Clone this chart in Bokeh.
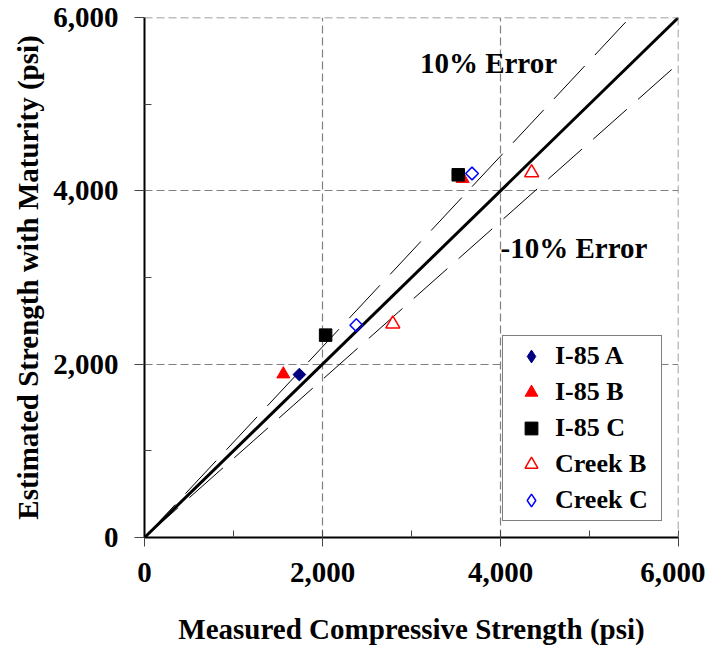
import math
from bokeh.plotting import figure
from bokeh.models import Range1d, FixedTicker, Label, Legend, LegendItem, NumeralTickFormatter, Span
from bokeh.embed import file_html
from bokeh.resources import INLINE

# ---- data ----
i85a_x = [1740]
i85a_y = [1880]
i85b_x = [1560, 3575]
i85b_y = [1885, 4140]
i85c_x = [2035, 3525]
i85c_y = [2335, 4185]
creekb_x = [2790, 4350]
creekb_y = [2465, 4210]
creekc_x = [2380, 3680]
creekc_y = [2450, 4200]

line_x = [0, 6000]
equal_y = [0, 6000]
upper_y = [0, 6600]   # +10% error
lower_y = [0, 5470]   # -10% error

ticks = [0, 2000, 4000, 6000]
minor = [1000, 3000, 5000]

FONT = "Liberation Serif"
NAN = float("nan")
GRID = "#808080"

p = figure(width=705, height=647, output_backend="svg", toolbar_location=None,
           x_range=Range1d(0, 6000), y_range=Range1d(0, 6000),
           min_border_left=144, min_border_right=27, min_border_top=17, min_border_bottom=109)
p.outline_line_color = None
p.background_fill_color = "white"
p.border_fill_color = "white"

# grids
for g in (p.xgrid, p.ygrid):
    g.ticker = FixedTicker(ticks=[2000, 4000])
    g.grid_line_color = GRID
    g.grid_line_dash = "8 4"
    g.grid_line_width = 1.2

# grid lines at the outer edge (6,000)
p.add_layout(Span(location=ticks[-1], dimension="height", line_color=GRID, line_dash="8 4", line_width=1.5))
p.add_layout(Span(location=ticks[-1], dimension="width", line_color=GRID, line_dash="8 4", line_width=1.5))

# axes
for ax in (p.xaxis, p.yaxis):
    ax.ticker = FixedTicker(ticks=ticks, minor_ticks=minor)
    ax.formatter = NumeralTickFormatter(format="0,0")
    ax.axis_line_color = "black"
    ax.axis_line_width = 2
    ax.major_tick_line_color = "#444444"
    ax.minor_tick_line_color = "#444444"
    ax.major_label_text_font = FONT
    ax.major_label_text_font_style = "bold"
    ax.major_label_text_font_size = "29px"
    ax.major_label_text_color = "black"
    ax.axis_label_text_font = FONT
    ax.axis_label_text_font_style = "bold"
    ax.axis_label_text_font_size = "29px"
    ax.axis_label_text_color = "black"
    ax.minor_tick_in = 7
    ax.minor_tick_out = 0

p.xaxis.major_tick_in = 7
p.xaxis.major_tick_out = 9
p.xaxis.major_label_standoff = 16
p.xaxis.axis_label = "Measured Compressive Strength (psi)"
p.xaxis.axis_label_standoff = 28

p.yaxis.major_tick_in = 0
p.yaxis.major_tick_out = 10
p.yaxis.major_label_standoff = 16
p.yaxis.axis_label = "Estimated Strength with Maturity (psi)"
p.yaxis.axis_label_standoff = 6

# lines
p.line(line_x, upper_y, line_color="black", line_width=1, line_dash="45 15")
p.line(line_x, lower_y, line_color="black", line_width=1, line_dash="45 15")
p.line(line_x, equal_y, line_color="black", line_width=3)

rot = math.pi / 4
# points
r1 = p.scatter(i85a_x, i85a_y, marker="square", angle=rot, size=9, fill_color="#000080", line_color="#000080")
r2 = p.scatter(i85b_x, i85b_y, marker="triangle", size=13, fill_color="red", line_color="red")
r3 = p.scatter(i85c_x, i85c_y, marker="square", size=12.5, fill_color="black", line_color="black")
r4 = p.scatter(creekb_x, creekb_y, marker="triangle", size=14, fill_color=None, line_color="red", line_width=1.5)
r5 = p.scatter(creekc_x, creekc_y, marker="square", angle=rot, size=9, fill_color=None, line_color="blue", line_width=1.5)

# legend swatches for the diamond series (legend glyphs ignore marker angle)
l1 = p.scatter([NAN], [NAN], marker="diamond", size=16, fill_color="#000080", line_color="#000080")
l5 = p.scatter([NAN], [NAN], marker="diamond", size=16, fill_color=None, line_color="blue", line_width=1.5)

legend = Legend(items=[
    LegendItem(label="I-85 A", renderers=[l1]),
    LegendItem(label="I-85 B", renderers=[r2]),
    LegendItem(label="I-85 C", renderers=[r3]),
    LegendItem(label="Creek B", renderers=[r4]),
    LegendItem(label="Creek C", renderers=[l5]),
], location=(358, 16))
legend.label_text_font = FONT
legend.label_text_font_style = "bold"
legend.label_text_font_size = "26px"
legend.label_text_color = "black"
legend.border_line_color = "black"
legend.border_line_width = 1
legend.background_fill_color = "white"
legend.background_fill_alpha = 1
legend.padding = 4
legend.spacing = 4
legend.glyph_height = 32
legend.label_height = 32
legend.glyph_width = 48
legend.label_standoff = 0
legend.label_width = 102
legend.margin = 0
p.add_layout(legend)

p.add_layout(Label(x=3865, y=5480, text="10% Error", text_font=FONT, text_font_style="bold",
                   text_font_size="29px", text_align="center", text_baseline="middle", text_color="black"))
p.add_layout(Label(x=4826, y=3345, text="-10% Error", text_font=FONT, text_font_style="bold",
                   text_font_size="29px", text_align="center", text_baseline="middle", text_color="black"))

open("out.html", "w").write(file_html(p, INLINE))
